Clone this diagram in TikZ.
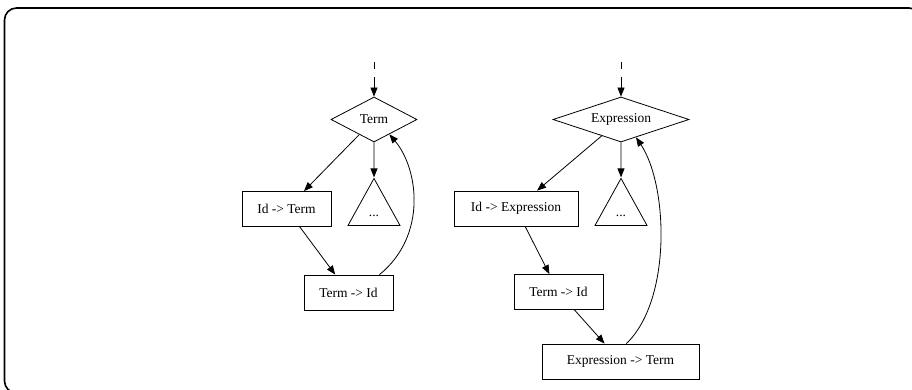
\documentclass[tikz,border=0pt]{standalone}
\usepackage{fontspec}
\setmainfont{Liberation Serif}
\usepackage{tikz}
\usetikzlibrary{arrows.meta,shapes.geometric,positioning}
\tikzset{
    %Define standard arrow tip
    >={Triangle[length=9pt,width=7pt]},
    %Define style for boxes
    prodbox/.style={
           rectangle,
           draw=black, line width=0.8pt,
           minimum height=35pt,
           inner sep=0pt,
           font=\fontsize{13.5}{16}\selectfont,
           text centered},
    altnode/.style={
           diamond,
           aspect=2,
           draw=black, line width=0.8pt,
           minimum height=45pt,
           inner sep=0pt,
           font=\fontsize{13.5}{16}\selectfont,
           text centered},
    subtree/.style={
           isosceles triangle,
           shape border rotate=90,
           isosceles triangle stretches,
           draw=black, line width=0.8pt,
           minimum width=52pt,
           minimum height=47pt,
           inner sep=0pt,
           font=\fontsize{13.5}{16}\selectfont},
    % Define arrow style
    pil/.style={
           ->,
           line width=0.8pt},
    entry/.style={
           ->,
           line width=0.8pt,
           dash pattern=on 7pt off 8pt on 12pt off 8pt}
}
\begin{document}
\begin{tikzpicture}[x=1pt,y=-1pt]
\useasboundingbox (0,0) rectangle (912,390);
% frame
\draw[line width=1.6pt,rounded corners=12pt] (4.5,8) rectangle (921,393);
 %nodes
\node[altnode, minimum width=86pt] (term) at (374,119.5) {Term};
\node[subtree, below=35pt of term] (tri1) {\raisebox{-10pt}{...}};
\node[prodbox, minimum width=89pt] (idterm) at (286.5,209) {Id -> Term};
\node[prodbox, minimum width=89pt] (termid) at (348.5,292.5) {Term -> Id};
\coordinate (in1) at (374,62);

\node[altnode, aspect=3, minimum width=136pt] (expr) at (621,119.5) {Expression};
\node[subtree, below=35pt of expr] (tri2) {\raisebox{-10pt}{...}};
\node[prodbox, minimum width=124pt] (idexpr) at (516,208.5) {Id -> Expression};
\node[prodbox, minimum width=89pt] (termid2) at (558.5,292) {Term -> Id};
\node[prodbox, minimum width=157pt] (exprterm) at (620.5,361.5) {Expression -> Term};
\coordinate (in2) at (621,62);
 %edges
\draw[entry] (in1) -- (term);
\draw[entry] (in2) -- (expr);
\path[pil]
    (term) edge (idterm)
    (term) edge (tri1)
    (idterm) edge (termid)
    (expr) edge (idexpr)
    (expr) edge (tri2)
    (idexpr) edge (termid2)
    (termid2) edge (exprterm);
\draw[pil] (termid.30) .. controls (428,235) and (418,168) .. (term.-44);
\draw[pil] (exprterm.72) .. controls (672,300) and (668,185) .. (expr.-50);
\end{tikzpicture}
\end{document}
